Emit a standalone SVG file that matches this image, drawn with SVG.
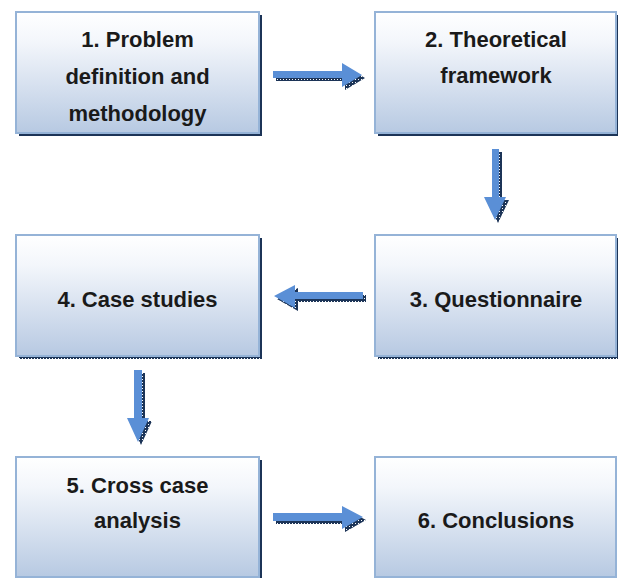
<svg xmlns="http://www.w3.org/2000/svg" width="618" height="578" viewBox="0 0 618 578">
  <defs>
    <linearGradient id="boxFill" x1="0" y1="0" x2="0" y2="1">
      <stop offset="0" stop-color="#ffffff"/>
      <stop offset="0.25" stop-color="#f3f6fb"/>
      <stop offset="1" stop-color="#b7c9e2"/>
    </linearGradient>
    <pattern id="dots" width="3" height="3" patternUnits="userSpaceOnUse">
      <rect width="3" height="3" fill="#1c3457"/>
      <rect x="1" y="1" width="1" height="1" fill="#ffffff"/>
    </pattern>
  </defs>
  <style>
    .box { fill: url(#boxFill); stroke: #95b3d7; stroke-width: 2; }
    .shadow { fill: url(#dots); }
    .lbl { font-family: "Liberation Sans", Arial, sans-serif; font-weight: bold; font-size: 22px; fill: #1a1a1a; text-anchor: middle; }
    .arrow { fill: #5a8fd6; }
    .ashadow { fill: url(#dots); }
  </style>

  <g id="connectors">
    <!-- 1 -> 2 -->
    <g transform="translate(3,3)"><path class="ashadow" d="M273,71 H342 V63 L362,75 L342,87 V78 H273 Z"/></g>
    <path class="arrow" d="M273,71 H342 V63 L362,75 L342,87 V78 H273 Z"/>
    <!-- 2 -> 3 -->
    <g transform="translate(3,3)"><path class="ashadow" d="M492,149 V197 H484 L495,220 L506,197 H499 V149 Z"/></g>
    <path class="arrow" d="M492,149 V197 H484 L495,220 L506,197 H499 V149 Z"/>
    <!-- 3 -> 4 -->
    <g transform="translate(3,3)"><path class="ashadow" d="M363,292 H295 V285 L274,296 L295,308 V299 H363 Z"/></g>
    <path class="arrow" d="M363,292 H295 V285 L274,296 L295,308 V299 H363 Z"/>
    <!-- 4 -> 5 -->
    <g transform="translate(3,3)"><path class="ashadow" d="M134,370 V418 H127 L138,442 L149,418 H142 V370 Z"/></g>
    <path class="arrow" d="M134,370 V418 H127 L138,442 L149,418 H142 V370 Z"/>
    <!-- 5 -> 6 -->
    <g transform="translate(3,3)"><path class="ashadow" d="M273,513 H342 V506 L363,517 L342,529 V521 H273 Z"/></g>
    <path class="arrow" d="M273,513 H342 V506 L363,517 L342,529 V521 H273 Z"/>
  </g>

  <g id="node1">
    <rect class="shadow" x="19" y="15" width="243" height="121"/>
    <rect class="box" x="16" y="12" width="243" height="121"/>
    <text class="lbl" x="137.5" y="47">1. Problem</text>
    <text class="lbl" x="137.5" y="84">definition and</text>
    <text class="lbl" x="137.5" y="121">methodology</text>
  </g>

  <g id="node2">
    <rect class="shadow" x="378" y="15" width="242" height="121"/>
    <rect class="box" x="375" y="12" width="241" height="121"/>
    <text class="lbl" x="496" y="47">2. Theoretical</text>
    <text class="lbl" x="496" y="83">framework</text>
  </g>

  <g id="node3">
    <rect class="shadow" x="378" y="238" width="242" height="121"/>
    <rect class="box" x="375" y="235" width="241" height="121"/>
    <text class="lbl" x="496" y="307">3. Questionnaire</text>
  </g>

  <g id="node4">
    <rect class="shadow" x="19" y="238" width="243" height="121"/>
    <rect class="box" x="16" y="235" width="243" height="121"/>
    <text class="lbl" x="137.5" y="307">4. Case studies</text>
  </g>

  <g id="node5">
    <rect class="shadow" x="19" y="460" width="243" height="121"/>
    <rect class="box" x="16" y="457" width="243" height="120"/>
    <text class="lbl" x="137.5" y="493">5. Cross case</text>
    <text class="lbl" x="137.5" y="528">analysis</text>
  </g>

  <g id="node6">
    <rect class="box" x="375" y="457" width="241" height="120"/>
    <text class="lbl" x="496" y="528">6. Conclusions</text>
  </g>
</svg>
